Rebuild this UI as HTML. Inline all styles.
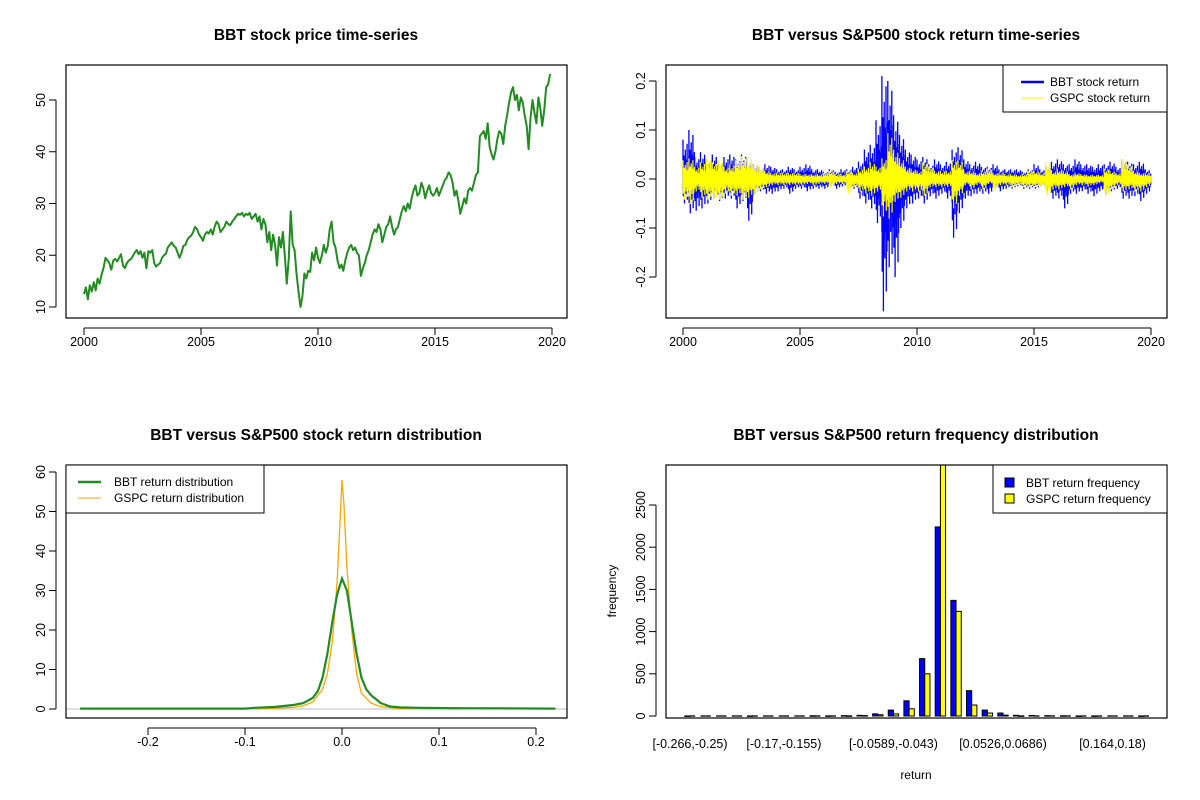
<!DOCTYPE html>
<html><head><meta charset="utf-8"><style>
html,body{margin:0;padding:0;background:#fff;}
svg{display:block;font-family:"Liberation Sans",Arial,sans-serif;}
</style></head><body>
<svg id="chart" width="1200" height="800" viewBox="0 0 1200 800" xmlns="http://www.w3.org/2000/svg">
<rect width="1200" height="800" fill="#fff"/>
<g id="p1"></g>
<g id="p2"></g>
<g id="p3"></g>
<g id="p4"></g>
</svg>
<script>
// ---------- Panel 1 data: BBT monthly price 2000..2019 ----------
const priceYears = [2000,2001,2002,2003,2004,2005,2006,2007,2008,2009,2010,2011,2012,2013,2014,2015,2016,2017,2018,2019];
const bbtPrice = [
12.5,13.8,11.5,14.2,13.0,14.8,13.2,15.5,14.5,16.2,17.5,19.5,
19.0,18.5,17.2,19.0,19.3,18.8,19.5,20.2,18.0,17.5,18.5,19.0,
19.2,19.8,20.5,21.0,20.2,20.8,19.5,20.5,17.5,20.8,20.5,21.0,
18.5,17.8,18.2,18.5,19.5,20.0,20.3,21.5,22.0,22.5,21.8,21.5,
20.5,19.5,20.5,21.8,22.0,23.0,23.5,23.8,24.5,25.5,25.0,24.0,
23.5,22.8,24.0,24.5,24.2,25.0,24.0,25.5,26.5,26.0,24.5,25.0,
25.5,26.5,26.0,25.8,26.5,27.0,27.5,28.0,27.8,28.2,27.5,28.0,
27.8,28.2,27.0,27.5,28.0,26.5,27.5,25.0,27.0,26.0,22.5,24.5,
21.0,24.0,22.0,18.0,23.5,21.5,24.5,20.0,14.5,19.5,28.5,22.0,
21.0,16.5,13.0,10.0,12.0,16.5,15.5,17.0,16.8,20.5,19.0,21.5,
19.5,18.5,20.0,22.0,20.5,21.8,25.0,26.5,22.5,21.5,19.0,17.5,
18.2,17.0,19.0,20.5,21.5,22.0,21.0,21.5,20.5,20.0,16.0,17.5,
18.5,20.0,21.0,22.5,24.0,25.0,24.5,26.0,25.0,22.5,24.0,25.5,
26.0,27.5,25.5,24.0,25.0,25.5,27.0,28.5,29.5,28.5,30.0,29.0,
31.0,32.5,33.5,31.5,32.0,34.0,33.0,31.0,32.5,33.5,32.0,31.5,
32.0,33.0,31.5,32.5,33.5,34.5,35.0,36.0,35.5,34.0,31.5,32.5,
30.5,28.0,29.5,31.0,30.0,32.5,33.0,32.5,34.0,35.5,36.0,43.0,
43.5,44.0,42.5,45.5,41.0,39.5,38.5,40.0,42.5,44.0,43.5,41.5,
45.0,47.0,49.5,51.5,52.5,50.0,51.0,48.0,50.5,49.5,47.0,45.0,
40.5,46.5,50.0,47.5,45.5,50.5,48.5,45.0,48.0,52.5,53.0,55.0];
const yearTicks = [2000,2005,2010,2015,2020];
const priceTicks = [10,20,30,40,50];

// ---------- Panel 2 data: quarterly return envelopes ----------
const bbtHi = [.08,.10,.045,.055,.04,.05,.035,.045,.05,.04,.05,.035,.03,.025,.03,.025,.02,.02,.025,.02,.025,.03,.02,.02,.015,.02,.015,.02,.02,.025,.035,.06,.07,.12,.21,.20,.13,.09,.06,.05,.04,.045,.03,.04,.03,.035,.06,.065,.04,.03,.035,.025,.025,.03,.02,.02,.02,.02,.015,.02,.03,.02,.025,.035,.04,.03,.03,.04,.03,.03,.025,.03,.03,.035,.025,.04,.035,.03,.035,.02];
const bbtLo = [-.05,-.07,-.065,-.06,-.05,-.04,-.045,-.04,-.04,-.06,-.045,-.085,-.03,-.025,-.03,-.03,-.025,-.02,-.03,-.02,-.02,-.025,-.02,-.02,-.02,-.015,-.02,-.015,-.015,-.02,-.04,-.05,-.06,-.09,-.27,-.18,-.20,-.10,-.06,-.05,-.04,-.05,-.035,-.04,-.03,-.04,-.12,-.07,-.04,-.035,-.03,-.03,-.03,-.02,-.025,-.02,-.02,-.015,-.02,-.02,-.02,-.015,-.025,-.04,-.04,-.06,-.03,-.03,-.025,-.03,-.035,-.025,-.03,-.025,-.02,-.04,-.04,-.035,-.045,-.03];
const spHi = [.045,.05,.03,.04,.05,.04,.045,.03,.035,.045,.055,.05,.035,.03,.02,.015,.015,.015,.015,.015,.012,.012,.012,.012,.015,.02,.012,.012,.02,.015,.025,.03,.04,.03,.05,.11,.07,.05,.03,.025,.02,.04,.03,.02,.02,.02,.045,.045,.02,.02,.015,.02,.025,.015,.015,.012,.012,.01,.012,.02,.02,.015,.04,.02,.025,.02,.012,.015,.012,.01,.01,.01,.025,.02,.015,.048,.035,.02,.015,.015];
const spLo = [-.05,-.06,-.03,-.045,-.05,-.05,-.05,-.035,-.04,-.04,-.05,-.045,-.035,-.025,-.02,-.015,-.015,-.015,-.015,-.015,-.015,-.012,-.015,-.012,-.012,-.02,-.012,-.012,-.035,-.02,-.03,-.035,-.04,-.03,-.09,-.095,-.055,-.045,-.03,-.03,-.03,-.04,-.02,-.02,-.02,-.02,-.07,-.04,-.015,-.025,-.015,-.025,-.012,-.025,-.015,-.015,-.02,-.015,-.02,-.02,-.02,-.02,-.04,-.025,-.025,-.02,-.025,-.015,-.015,-.018,-.015,-.01,-.04,-.025,-.015,-.03,-.025,-.03,-.03,-.02];
const returnTicks = [-0.2,-0.1,0.0,0.1,0.2];

// ---------- Panel 3 data: densities ----------
const bbtDensX = [-0.27,-0.1,-0.09,-0.07,-0.05,-0.04,-0.03,-0.025,-0.02,-0.015,-0.01,-0.005,0,0.005,0.01,0.015,0.02,0.025,0.03,0.04,0.05,0.06,0.08,0.12,0.22];
const bbtDensY = [0.1,0.1,0.3,0.5,1,1.5,2.8,4.5,8,14,22,29,33,30,22,14,8,5,3.5,1.5,0.6,0.4,0.3,0.2,0.1];
const spDensX = [-0.1,-0.07,-0.05,-0.04,-0.03,-0.02,-0.015,-0.01,-0.005,-0.002,0,0.002,0.005,0.01,0.015,0.02,0.03,0.04,0.06,0.12];
const spDensY = [0,0.2,0.4,0.8,1.8,5,9,17,32,48,58,52,36,20,9,4,1.5,0.6,0.1,0];
const densXTicks = [-0.2,-0.1,0.0,0.1,0.2];
const densYTicks = [0,10,20,30,40,50,60];

// ---------- Panel 4 data: histogram ----------
const bbtFreq = [1,0,0,0,1,0,0,0,3,2,4,8,25,70,180,680,2240,1370,300,70,35,8,6,4,3,1,1,0,0,1];
const spFreq  = [0,0,0,0,0,0,0,0,0,0,2,5,15,25,85,500,3350,1240,130,35,10,2,0,0,0,0,0,0,0,0];
const binLabelIdx = [0,6,13,20,27];
const binLabels = ["[-0.266,-0.25)","[-0.17,-0.155)","[-0.0589,-0.043)","[0.0526,0.0686)","[0.164,0.18)"];
const freqTicks = [0,500,1000,1500,2000,2500];

const NS="http://www.w3.org/2000/svg";
function mk(parent,tag,attrs,text){const e=document.createElementNS(NS,tag);for(const k in attrs)e.setAttribute(k,attrs[k]);if(text!==undefined)e.textContent=text;parent.appendChild(e);return e;}
function lin(d0,d1,r0,r1){return v=>r0+(v-d0)/(d1-d0)*(r1-r0);}

function frame(g,L,T,R,B,title,tx){
  const b=mk(g,'rect',{x:L,y:T,width:R-L,height:B-T,fill:'none',stroke:'#000','stroke-width':1.2});
  
  
  const t=mk(g,'text',{x:tx,y:T-25,'text-anchor':'middle','font-size':'15.5','font-weight':'bold'},title);
  
  
}
function xaxis(g,B,ticks,sx,fmt){
  const a=mk(g,'g',{});
  
  
  mk(a,'line',{x1:sx(ticks[0]),x2:sx(ticks[ticks.length-1]),y1:B+10,y2:B+10,stroke:'#000'});
  ticks.forEach(t=>{mk(a,'line',{x1:sx(t),x2:sx(t),y1:B+10,y2:B+17,stroke:'#000'});
    const l=mk(a,'text',{x:sx(t),y:B+28,'text-anchor':'middle','font-size':'12.5'},fmt(t));
    
    });
}
function yaxis(g,L,ticks,sy,fmt){
  const a=mk(g,'g',{});
  
  
  mk(a,'line',{x1:L-10,x2:L-10,y1:sy(ticks[0]),y2:sy(ticks[ticks.length-1]),stroke:'#000'});
  ticks.forEach(t=>{mk(a,'line',{x1:L-17,x2:L-10,y1:sy(t),y2:sy(t),stroke:'#000'});
    const y=sy(t);
    const l=mk(a,'text',{x:L-21,y:y,'text-anchor':'middle','font-size':'12.5',transform:`rotate(-90 ${L-21} ${y})`},fmt(t));
    
    });
}
const f1=v=>v.toFixed(1);

// ===== Panel 1 =====
(function(){
  const g=document.getElementById('p1');const L=66,R=567,T=65,B=318;
  const sx=lin(2000,2020,84,552), sy=lin(10,50,307,100);
  let pts=bbtPrice.map((v,i)=>`${sx(2000+i/12).toFixed(1)},${sy(v).toFixed(1)}`).join(' ');
  const p=mk(g,'polyline',{points:pts,fill:'none',stroke:'#228b22','stroke-width':2,'stroke-linejoin':'round'});
  
  
  frame(g,L,T,R,B,'BBT stock price time-series',316);
  xaxis(g,B,yearTicks,sx,String);yaxis(g,L,priceTicks,sy,String);
})();

// ===== Panel 2 =====
(function(){
  const g=document.getElementById('p2');const L=666,R=1167,T=65,B=318;
  const sx=lin(2000,2020,683,1151), sy=lin(-0.2,0.2,277,81);
  const fr=[1,.35,.5,.25,.6,.3,.2,.45,.75,.3,.4,.15,.5,.25,.9,.35,.2,.45,.3,.55];
  const gr=[.4,.7,.3,.5,.2,1,.35,.25,.45,.3,.6,.3,.15,.4,.25,.85,.35,.55,.2,.4];
  function band(hi,lo,color,w,name,scale){
    const gg=mk(g,'g',{stroke:color,'stroke-width':w});
    
    
    let d='';
    hi.forEach((h,q)=>{const n=fr.length;for(let j=0;j<n;j++){const x=sx(2000+q/4+j/(4*n));
      d+=`M${x.toFixed(1)} ${sy(h*fr[j]*scale).toFixed(1)}V${sy(lo[q]*gr[j]*scale).toFixed(1)}`;}});
    mk(gg,'path',{d:d,fill:'none'});
  }
  band(bbtHi,bbtLo,'#0000ff',1.3,'bbt-return-series',1);
  band(spHi,spLo,'#ffff00',1.2,'gspc-return-series',0.85);
  frame(g,L,T,R,B,'BBT versus S&P500 stock return time-series',916);
  xaxis(g,B,yearTicks,sx,String);yaxis(g,L,returnTicks,sy,f1);
  const lg=mk(g,'g',{});
  mk(lg,'rect',{x:1003,y:65,width:164,height:47,fill:'#fff',stroke:'#000'});
  mk(lg,'line',{x1:1021,x2:1044,y1:82,y2:82,stroke:'#0000ff','stroke-width':2.5});
  mk(lg,'line',{x1:1021,x2:1044,y1:98,y2:98,stroke:'#ffff00','stroke-width':1});
  const e1=mk(lg,'text',{x:1050,y:86,'font-size':'12'},'BBT stock return');
  const e2=mk(lg,'text',{x:1050,y:102,'font-size':'12'},'GSPC stock return');
})();

// ===== Panel 3 =====
(function(){
  const g=document.getElementById('p3');const L=66,R=567,T=465,B=718;
  const sx=lin(0,0.1,342,439), sy=lin(0,60,709,472);
  mk(g,'line',{x1:L,x2:R,y1:sy(0),y2:sy(0),stroke:'#bebebe'});
  const a=mk(g,'polyline',{points:spDensX.map((x,i)=>`${sx(x).toFixed(1)},${sy(spDensY[i]).toFixed(1)}`).join(' '),fill:'none',stroke:'#ffa500','stroke-width':1.3});
  
  const b=mk(g,'polyline',{points:bbtDensX.map((x,i)=>`${sx(x).toFixed(1)},${sy(bbtDensY[i]).toFixed(1)}`).join(' '),fill:'none',stroke:'#228b22','stroke-width':2.2});
  
  frame(g,L,T,R,B,'BBT versus S&P500 stock return distribution',316);
  xaxis(g,B,densXTicks,sx,f1);yaxis(g,L,densYTicks,sy,String);
  const lg=mk(g,'g',{});
  mk(lg,'rect',{x:66,y:465,width:198,height:48,fill:'#fff',stroke:'#000'});
  mk(lg,'line',{x1:78,x2:101,y1:482,y2:482,stroke:'#228b22','stroke-width':2.5});
  mk(lg,'line',{x1:78,x2:101,y1:498,y2:498,stroke:'#ffa500','stroke-width':1});
  const e1=mk(lg,'text',{x:114,y:486,'font-size':'12'},'BBT return distribution');
  const e2=mk(lg,'text',{x:114,y:502,'font-size':'12'},'GSPC return distribution');
})();

// ===== Panel 4 =====
(function(){
  const g=document.getElementById('p4');const L=666,R=1167,T=465,B=718;
  const sy=lin(0,2500,716,505);
  const cx=i=>690+i*15.65, bw=5.2;
  mk(g,'clipPath',{id:'clip4'}).appendChild(document.createElementNS(NS,'rect'));
  const cr=document.querySelector('#clip4 rect');cr.setAttribute('x',L);cr.setAttribute('y',T);cr.setAttribute('width',R-L);cr.setAttribute('height',B-T);
  const bars=mk(g,'g',{'clip-path':'url(#clip4)'});
  
  function bar(x,v,fill,name){
    if(v===0){
      const l=mk(bars,'line',{x1:x,x2:x+bw,y1:sy(0),y2:sy(0),stroke:'#000','stroke-width':1.3});
      
      
    } else {
      const r=mk(bars,'rect',{x:x,y:sy(v),width:bw,height:Math.max(sy(0)-sy(v),0.5),fill:fill,stroke:'#000','stroke-width':1});
      
      
    }
  }
  bbtFreq.forEach((v,i)=>{
    bar(cx(i)-bw,v,'#0000ff','bbt-bar');
    bar(cx(i),spFreq[i],'#ffff00','gspc-bar');
  });
  frame(g,L,T,R,B,'BBT versus S&P500 return frequency distribution',916);
  yaxis(g,L,freqTicks,sy,String);
  binLabelIdx.forEach((bi,k)=>{const t=mk(g,'text',{x:cx(bi),y:748,'text-anchor':'middle','font-size':'12.5'},binLabels[k]);
    });
  const xt=mk(g,'text',{x:916,y:779,'text-anchor':'middle','font-size':'12'},'return');
  
  const yt=mk(g,'text',{x:616,y:591,'text-anchor':'middle','font-size':'12',transform:'rotate(-90 616 591)'},'frequency');
  
  const lg=mk(g,'g',{});
  mk(lg,'rect',{x:993,y:465,width:174,height:48,fill:'#fff',stroke:'#000'});
  mk(lg,'rect',{x:1005,y:478,width:9,height:9,fill:'#0000ff',stroke:'#000'});
  mk(lg,'rect',{x:1005,y:494,width:9,height:9,fill:'#ffff00',stroke:'#000'});
  const e1=mk(lg,'text',{x:1026,y:487,'font-size':'12'},'BBT return frequency');
  const e2=mk(lg,'text',{x:1026,y:503,'font-size':'12'},'GSPC return frequency');
})();
</script>
</body></html>
